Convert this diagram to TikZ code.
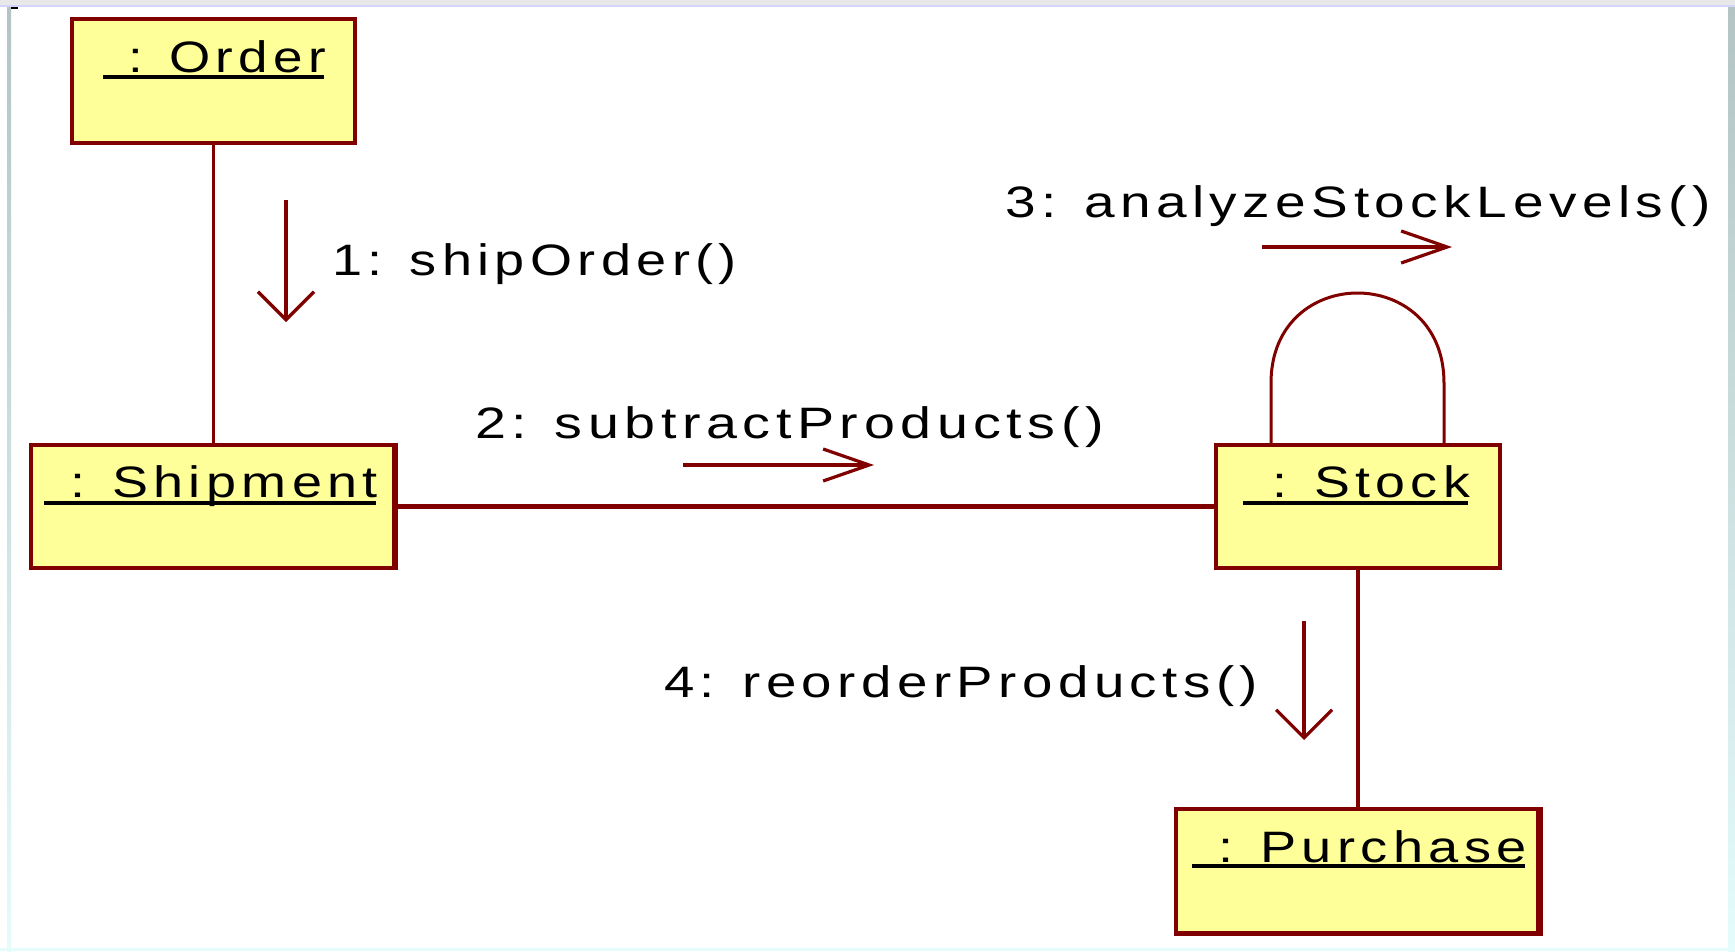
\documentclass[tikz,border=0pt]{standalone}
\usepackage{fontspec}
\usetikzlibrary{arrows.meta}
\newfontfamily\umlfont[LetterSpace=10]{Liberation Sans}
\definecolor{rose}{HTML}{800000}
\definecolor{roseyellow}{HTML}{FFFF99}
\definecolor{framegray}{HTML}{B4C4C4}
\definecolor{framecyan}{HTML}{E4FCFC}
\definecolor{toplav}{HTML}{D4D4FC}
\newcommand{\fitw}[2]{\resizebox{#1}{\height}{\umlfont\fontsize{44}{50}\selectfont #2}}
\begin{document}
\begin{tikzpicture}[x=1pt,y=-1pt,
  objbox/.style={draw=rose, line width=4pt, fill=roseyellow, inner sep=0pt},
  link/.style={draw=rose, line width=3.5pt},
  hlink/.style={draw=rose, line width=5pt},
  selflink/.style={draw=rose, line width=3pt},
  msg/.style={draw=rose, line width=3.2pt},
  vhead/.style={-{Straight Barb[length=28pt,width=56pt]}},
  hhead/.style={-{Straight Barb[length=46pt,width=32pt]}},
  lbl/.style={inner sep=0pt, outer sep=0pt, anchor=base west, text=black},
  uline/.style={draw=black, line width=3.5pt}]
\useasboundingbox (0,0) rectangle (1735,951);
\fill[white] (0,0) rectangle (1735,951);
% window frame
\fill[gray!18] (0,0) rectangle (1735,5);
\fill[toplav] (0,5) rectangle (1735,7);
\shade[top color=framegray, bottom color=framecyan] (7,7) rectangle (11,951);
\shade[top color=framegray, bottom color=framecyan] (1728,7) rectangle (1735,951);
\fill[framecyan] (0,948) rectangle (1735,951);
\fill[black] (11,7) rectangle (18,9);

% object boxes
\node[objbox, minimum width=283pt, minimum height=124pt] (order) at (213.5,81) {};
\node[objbox, minimum width=365pt, minimum height=123pt] (shipment) at (213.5,506.5) {};
\node[objbox, minimum width=284pt, minimum height=123pt] (stock) at (1358,506.5) {};
\node[objbox, minimum width=365pt, minimum height=125pt] (purchase) at (1358.5,871.5) {};
\fill[rose] ([xshift=-6pt]shipment.north east) rectangle (shipment.south east);
\fill[rose] ([xshift=-7pt]purchase.north east) rectangle (purchase.south east);
\fill[rose] ([yshift=5pt]purchase.south west) rectangle (purchase.south east);

% object names
\node[lbl] (ordlbl) at (128,72) {\fitw{198pt}{: Order}};
\node[lbl] (shiplbl) at (70,497) {\fitw{308pt}{: Shipment}};
\node[lbl] (stocklbl) at (1272,497) {\fitw{198pt}{: Stock}};
\node[lbl] (purchlbl) at (1218,862) {\fitw{309pt}{: Purchase}};
\draw[uline] ([xshift=-25pt,yshift=-5pt]ordlbl.base west) -- ([xshift=-2pt,yshift=-5pt]ordlbl.base east);
\draw[uline] ([xshift=-26pt,yshift=-6pt]shiplbl.base west) -- ([xshift=-2pt,yshift=-6pt]shiplbl.base east);
\draw[uline] ([xshift=-29pt,yshift=-6pt]stocklbl.base west) -- ([xshift=-2pt,yshift=-6pt]stocklbl.base east);
\draw[uline] ([xshift=-26pt,yshift=-4pt]purchlbl.base west) -- ([xshift=-2pt,yshift=-4pt]purchlbl.base east);

% links
\draw[link] (order.south) -- (order.south |- shipment.north);
\draw[hlink] (shipment.east) -- (stock.west);
\draw[link] (stock.south) -- (stock.south |- purchase.north);
\draw[selflink] ([xshift=-87pt]stock.north) -- (1271,383)
  .. controls (1271,263) and (1444,263) .. (1444,383) -- ([xshift=86pt]stock.north);

% messages
\node[lbl] (m1) at (332,275) {\fitw{405pt}{1: shipOrder()}};
\node[lbl] (m2) at (475,438) {\fitw{629pt}{2: subtractProducts()}};
\node[lbl] (m3) at (1005,217) {\fitw{706pt}{3: analyzeStockLevels()}};
\node[lbl] (m4) at (664,697) {\fitw{594pt}{4: reorderProducts()}};

\coordinate (a1s) at (286,200);  \coordinate (a1e) at (286,322);
\coordinate (a2s) at (683,465);  \coordinate (a2e) at (874,465);
\coordinate (a3s) at (1262,247); \coordinate (a3e) at (1452,247);
\coordinate (a4s) at (1304,621); \coordinate (a4e) at (1304,740);
\draw[msg,vhead] (a1s) -- (a1e);
\draw[msg,hhead] (a2s) -- (a2e);
\draw[msg,hhead] (a3s) -- (a3e);
\draw[msg,vhead] (a4s) -- (a4e);
\end{tikzpicture}
\end{document}
